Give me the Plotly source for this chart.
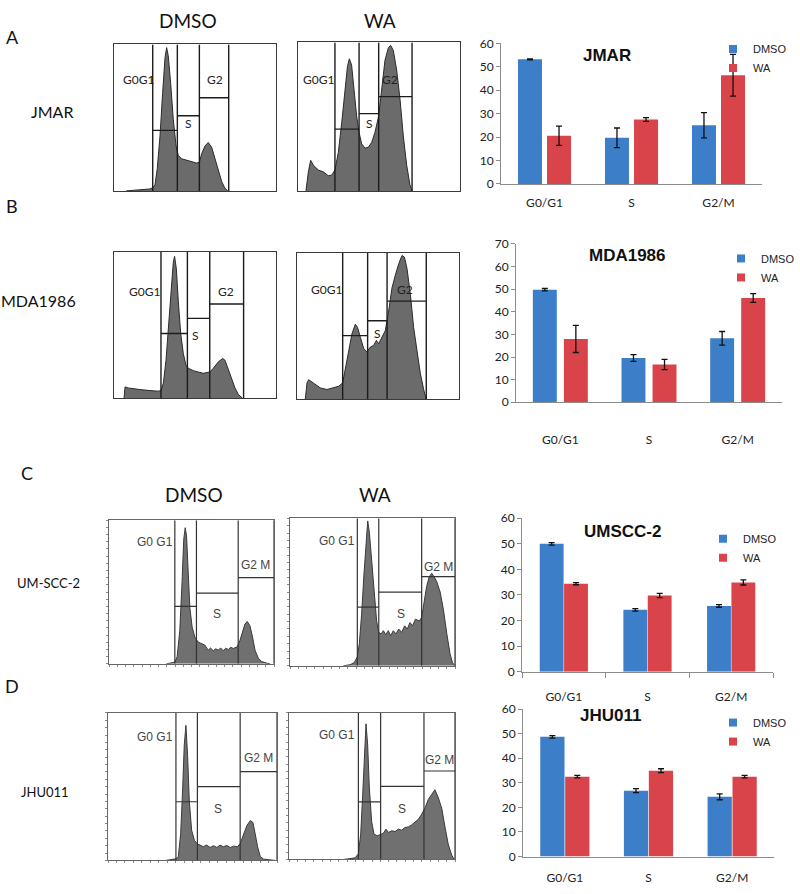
import plotly.graph_objects as go

# ---------------- bar chart data (% of cells) ----------------
phases = ["G0/G1", "S", "G2/M"]
treatments = ["DMSO", "WA"]

jmar_dmso = [53.2, 19.7, 25.1]
jmar_dmso_err = [0.2, 4.2, 5.4]
jmar_wa = [20.6, 27.5, 46.4]
jmar_wa_err = [4.1, 0.8, 8.9]

mda_dmso = [49.8, 19.6, 28.3]
mda_dmso_err = [0.5, 1.5, 3.0]
mda_wa = [28.0, 16.7, 46.1]
mda_wa_err = [6.0, 2.3, 1.9]

umscc_dmso = [50.0, 24.2, 25.7]
umscc_dmso_err = [0.5, 0.5, 0.5]
umscc_wa = [34.4, 29.8, 34.9]
umscc_wa_err = [0.4, 0.8, 1.0]

jhu_dmso = [48.7, 26.8, 24.3]
jhu_dmso_err = [0.5, 0.8, 1.2]
jhu_wa = [32.5, 34.9, 32.5]
jhu_wa_err = [0.5, 0.8, 0.5]

# ---------------- DNA-content histograms (x: channel %, y: count % of frame) ----------------
jmar_dmso_hx = [7.5, 16, 22.2, 23.9, 25.3, 26.7, 28.4, 30, 31.5, 32.5, 33.5, 35, 36.6, 38.3, 39.7, 41.8, 44.9, 47.9, 51, 52.7, 54.1, 56.2, 58.2, 60.3, 62.3, 64.4, 66.5, 68.5, 70.2]
jmar_dmso_hy = [0, 0.9, 1.3, 2.2, 4, 15.2, 37.5, 66.5, 91, 97.8, 92.2, 73.2, 48.7, 30.8, 24.1, 21.9, 20.8, 19.6, 19, 19.6, 25.2, 30.8, 33, 29.7, 21.9, 12.9, 6.3, 1.8, 0]
jmar_dmso_gates = [23.9, 39.1, 52.7, 70.8]
jmar_dmso_levels = [41.3, 51.3, 63.6]

jmar_wa_hx = [4.9, 6.4, 7.8, 9.5, 12.6, 15.6, 18.7, 20.8, 22.8, 24.9, 27, 29, 30.5, 31.7, 33.1, 34.6, 36.2, 37.7, 39.3, 41.4, 43.4, 45.5, 47.5, 49.8, 51.6, 53.7, 55.8, 57.2, 58.8, 60.9, 63, 65, 67.1, 69.1, 70.4]
jmar_wa_hy = [0, 12.8, 20.6, 17.3, 14, 12.8, 10.2, 10.6, 14, 26, 46, 70, 83.6, 89, 84.7, 68, 50.4, 39.4, 31.6, 28.8, 29.4, 32.7, 39.4, 50.4, 70, 88, 96.5, 98, 94.7, 81.4, 61.5, 37, 17.3, 4, 0]
jmar_wa_gates = [22.8, 37.7, 49.8, 70.4]
jmar_wa_levels = [41.6, 52.0, 63.5]

mda_dmso_hx = [6.2, 6.8, 8.8, 11.9, 16, 22.2, 27.4, 29, 30.5, 32.1, 33.7, 35.4, 36.6, 37.4, 38.5, 39.7, 41.2, 42.8, 44.4, 45.9, 49, 52, 55.1, 59.1, 61.3, 64.4, 67.1, 68.5, 70.6, 72.6, 74.7, 76.7, 79.4]
mda_dmso_hy = [0, 7.8, 7.1, 6.5, 6, 5.3, 4.9, 5.3, 10.5, 26, 48.3, 77.3, 92.9, 96.9, 88.4, 66.1, 43.9, 30.5, 22.7, 20.5, 18.9, 18, 17.1, 18, 20.5, 24.9, 27.2, 26, 19.4, 12.7, 7.1, 2.7, 0]
mda_dmso_gates = [29.0, 45.3, 59.1, 80.0]
mda_dmso_levels = [44.3, 54.6, 64.4]

mda_wa_hx = [5.1, 6.2, 7.2, 10.3, 14.4, 18.5, 22.6, 25.7, 28.2, 29.8, 31.9, 33.9, 36, 37.4, 39.1, 41.2, 43.2, 45.3, 47.3, 49, 50.4, 52.5, 54.5, 56.6, 58.6, 60.7, 62.8, 64.8, 66.3, 67.9, 70, 72, 74.1, 76.1, 78.2, 79.8]
mda_wa_hy = [0, 11.2, 13.4, 11.2, 7.8, 6.7, 7.8, 8.9, 11.2, 20, 33.5, 44.6, 51.3, 49.1, 42.4, 34.6, 32.4, 35.7, 36.8, 40.2, 37.9, 42.4, 46.9, 60.3, 75.9, 84.8, 92.6, 98.2, 97.1, 89.3, 71.4, 49.1, 31.3, 17.9, 6.7, 0]
mda_wa_gates = [28.2, 43.6, 55.6, 79.8]
mda_wa_levels = [43.5, 53.6, 67.0]

umscc_dmso_hx = [34.8, 37.9, 39.9, 41.3, 42.9, 44.3, 45.3, 46.2, 47, 48, 49, 50.4, 52, 54, 56.1, 58.1, 60.1, 61.5, 63.2, 64.7, 66.2, 67.7, 69.2, 70.7, 72.3, 73.8, 75.3, 77.7, 79.4, 81, 82.4, 83.8, 85.4, 87, 88.5, 90.5, 92.5, 95.5, 97.6]
umscc_dmso_hy = [0, 0.9, 1.1, 5, 23.2, 57.3, 86.8, 94.8, 89.1, 64.1, 39.1, 25.5, 18.6, 15.2, 14.1, 13, 9.5, 11, 9.1, 10.5, 9.5, 11, 9.1, 10.8, 10, 11.5, 10.7, 11.8, 16.4, 23.2, 27.7, 29.5, 26.6, 18.6, 9.5, 3.9, 1.6, 0.5, 0]
umscc_dmso_gates = [39.9, 53.0, 78.3, 100.0]
umscc_dmso_levels = [40.0, 49.3, 60.0]

umscc_wa_hx = [32.3, 36.4, 38.8, 40.8, 42, 43.4, 44.8, 46.1, 47.1, 48.1, 49.5, 50.9, 52.5, 53.7, 55.2, 56.6, 58, 59.6, 61, 62.6, 64.2, 65.9, 67.7, 69.5, 71.1, 72.7, 74.3, 76, 78.4, 79.8, 81.2, 82.8, 84.4, 85.9, 87.3, 88.9, 91, 93, 95, 97, 98.5, 100]
umscc_wa_hy = [0, 0.7, 2, 6, 14.9, 34.9, 61.6, 86, 98.2, 90.4, 70.4, 48.2, 30.4, 22.7, 21.6, 23.8, 21.1, 23.8, 20.4, 23.8, 21.6, 24.9, 22.7, 27.1, 24.9, 29.3, 27.1, 31.6, 30.4, 32.7, 43.8, 53.8, 60.4, 62.7, 60.4, 57.1, 50, 38, 22, 8, 2, 0]
umscc_wa_gates = [40.8, 53.8, 79.8, 100.0]
umscc_wa_levels = [39.8, 50.0, 60.5]

jhu_dmso_hx = [34, 36.6, 40.2, 41.6, 43, 44.2, 45.1, 46.1, 47.1, 48.1, 49.5, 51.1, 52.9, 54.5, 56.4, 58.4, 60.4, 62.4, 64.4, 66.3, 68.3, 70.3, 72.3, 74.3, 76.6, 78.2, 80.2, 82.2, 84.2, 85.7, 87.1, 88.5, 90.1, 92.1, 96, 99]
jhu_dmso_hy = [0, 0.4, 1.1, 2.7, 18.1, 49.1, 77.9, 91.6, 71.2, 40.3, 20.4, 13.7, 11.1, 10.4, 9.3, 10.4, 8.8, 10, 8.8, 10.4, 9.3, 10.2, 8.8, 9.7, 9.3, 11.5, 17, 23.7, 27, 25.9, 18.1, 9.3, 2.7, 0.9, 0.4, 0]
jhu_dmso_gates = [40.2, 52.9, 78.2, 100.0]
jhu_dmso_levels = [39.8, 50.0, 60.2]

jhu_wa_hx = [33, 34.7, 39.8, 41.8, 43.2, 44.4, 45.4, 46.4, 47.4, 48.4, 49.8, 51.2, 53.2, 55.2, 56.8, 58.4, 60, 61.8, 63.9, 65.9, 67.9, 69.9, 71.9, 73.9, 75.9, 77.9, 79.9, 82, 83.9, 85.9, 87.9, 90, 92, 94, 96, 98, 99.5]
jhu_wa_hy = [0, 0.4, 1.1, 3.8, 17.3, 44.3, 73.5, 92.6, 78, 48.8, 25.8, 17.3, 16.2, 16.9, 17.8, 20.7, 18.4, 19.6, 19.1, 20.7, 20, 21.8, 22.2, 23.6, 25.2, 27.4, 30.8, 35.3, 40.9, 44.3, 47.6, 42, 35, 22, 10, 3, 0]
jhu_wa_gates = [41.8, 55.2, 81.3, 100.0]
jhu_wa_levels = [39.3, 49.9, 60.4]

gate_names_ab = ["G0G1", "S", "G2"]
gate_names_cd = ["G0 G1", "S", "G2 M"]

# ---------------- layout helpers ----------------
W, H = 800, 894
BLUE = "#3d7ec9"
RED = "#d9444a"
CAL = "Lato"
ARI = "Liberation Sans"


def xd(a, b):
    return [a / W, b / W]


def yd(top, bottom):
    return [1 - bottom / H, 1 - top / H]


fig = go.Figure()
layout = dict(width=W, height=H, margin=dict(l=0, r=0, t=0, b=0),
              paper_bgcolor="white", plot_bgcolor="white",
              barmode="overlay", showlegend=True)
shapes = []
annotations = []

hist_panels = [
    dict(hx=jmar_dmso_hx, hy=jmar_dmso_hy, g=jmar_dmso_gates, lv=jmar_dmso_levels, box=(114, 276, 37, 186), st="ab",
         lab=[(15, 76), (45.9, 46), (62.3, 76)]),
    dict(hx=jmar_wa_hx, hy=jmar_wa_hy, g=jmar_wa_gates, lv=jmar_wa_levels, box=(298, 460, 35, 186), st="ab",
         lab=[(12.6, 75), (44, 45.6), (56.8, 75)]),
    dict(hx=mda_dmso_hx, hy=mda_dmso_hy, g=mda_dmso_gates, lv=mda_dmso_levels, box=(114, 276, 248, 397), st="ab",
         lab=[(19.1, 72.8), (50.6, 42.8), (69.1, 72.8)]),
    dict(hx=mda_wa_hx, hy=mda_wa_hy, g=mda_wa_gates, lv=mda_wa_levels, box=(297, 459, 249, 398), st="ab",
         lab=[(18.5, 75.2), (49.4, 45), (66.9, 75.2)]),
    dict(hx=umscc_dmso_hx, hy=umscc_dmso_hy, g=umscc_dmso_gates, lv=umscc_dmso_levels, box=(109, 274, 521, 667), st="cd",
         lab=[(27.7, 85), (65.6, 34.5), (88.9, 69)]),
    dict(hx=umscc_wa_hx, hy=umscc_wa_hy, g=umscc_wa_gates, lv=umscc_wa_levels, box=(290, 455, 519, 669), st="cd",
         lab=[(28.3, 84.9), (67, 34.9), (89.8, 67)]),
    dict(hx=jhu_dmso_hx, hy=jhu_dmso_hy, g=jhu_dmso_gates, lv=jhu_dmso_levels, box=(108, 277, 717, 867), st="cd",
         lab=[(27.7, 84), (65.3, 34.7), (89.1, 69.5)]),
    dict(hx=jhu_wa_hx, hy=jhu_wa_hy, g=jhu_wa_gates, lv=jhu_wa_levels, box=(289, 455, 717, 866), st="cd",
         lab=[(29.1, 84.7), (67.9, 34.2), (90.8, 68)]),
]

for i, p in enumerate(hist_panels, start=1):
    xa = "x" if i == 1 else f"x{i}"
    ya = "y" if i == 1 else f"y{i}"
    xk = "xaxis" if i == 1 else f"xaxis{i}"
    yk = "yaxis" if i == 1 else f"yaxis{i}"
    l, r, t, b = p["box"]
    ab = p["st"] == "ab"
    frame = "#3a3a3a" if ab else "#666666"
    tick_kw = {} if ab else dict(ticks="outside", ticklen=2, tickcolor="#888888", dtick=5, tick0=0)
    layout[xk] = dict(domain=xd(l, r), range=[0, 100], anchor=ya, showgrid=False, zeroline=False,
                      showticklabels=False, showline=True, mirror=True, linecolor=frame, linewidth=1, **tick_kw)
    layout[yk] = dict(domain=yd(t, b), range=[0, 100], anchor=xa, showgrid=False, zeroline=False,
                      showticklabels=False, showline=True, mirror=True, linecolor=frame, linewidth=1, **tick_kw)
    fig.add_trace(go.Scatter(x=p["hx"], y=p["hy"], xaxis=xa, yaxis=ya, mode="lines", fill="tozeroy",
                             fillcolor="#6b6b6b" if ab else "#707070",
                             line=dict(color="#2b2b2b" if ab else "#3a3a3a", width=1),
                             showlegend=False, hoverinfo="skip"))
    gcol = "#1c1c1c" if ab else "#333333"
    gw = 1.4 if ab else 1.2
    for gx in p["g"]:
        shapes.append(dict(type="line", xref=xa, yref=ya, x0=gx, x1=gx, y0=0, y1=100,
                           line=dict(color=gcol, width=gw)))
    for k in range(3):
        shapes.append(dict(type="line", xref=xa, yref=ya, x0=p["g"][k], x1=p["g"][k + 1],
                           y0=p["lv"][k], y1=p["lv"][k], line=dict(color=gcol, width=gw)))
    names = gate_names_ab if ab else gate_names_cd
    for name, (lx, ly) in zip(names, p["lab"]):
        annotations.append(dict(xref=xa, yref=ya, x=lx, y=ly, text=name, showarrow=False,
                                font=dict(family=CAL if ab else ARI, size=12,
                                          color="#222222" if ab else "#444444")))

bar_panels = [
    dict(title="JMAR", d=jmar_dmso, de=jmar_dmso_err, w=jmar_wa, we=jmar_wa_err, box=(501, 762, 36, 179), ymax=60,
         bw=0.276, gap=0.058, tpos=(633, 48), leg=(713, 27), standoff=8, xticks=False),
    dict(title="MDA1986", d=mda_dmso, de=mda_dmso_err, w=mda_wa, we=mda_wa_err, box=(516, 782, 240, 401), ymax=70,
         bw=0.27, gap=0.08, tpos=(668, 252), leg=(721, 240), standoff=26, xticks=False),
    dict(title="UMSCC-2", d=umscc_dmso, de=umscc_dmso_err, w=umscc_wa, we=umscc_wa_err, box=(522, 773, 519, 675),
         ymax=60, bw=0.285, gap=0.006, tpos=(663, 532), leg=(703, 525), standoff=14, xticks=True),
    dict(title="JHU011", d=jhu_dmso, de=jhu_dmso_err, w=jhu_wa, we=jhu_wa_err, box=(523, 774, 713, 863), ymax=60,
         bw=0.29, gap=0.008, tpos=(643, 720), leg=(713, 712), standoff=10, xticks=False),
]

for j, p in enumerate(bar_panels):
    i = 9 + j
    xa, ya = f"x{i}", f"y{i}"
    l, r, t, b = p["box"]
    leg_name = "legend" if j == 0 else f"legend{j + 1}"
    x_kw = dict(ticks="outside", ticklen=5, tickcolor="#8c8c8c", tickson="boundaries") if p["xticks"] else dict(ticks="")
    layout[f"xaxis{i}"] = dict(domain=xd(l, r), anchor=ya, type="category", categoryarray=phases,
                               categoryorder="array", range=[-0.5, 2.5], showgrid=False, zeroline=False,
                               showline=True, linecolor="#8c8c8c", linewidth=1,
                               tickfont=dict(family=CAL, size=12, color="#222222"),
                               ticklabelstandoff=p["standoff"], **x_kw)
    layout[f"yaxis{i}"] = dict(domain=yd(t, b), anchor=xa, range=[0, p["ymax"]], dtick=10, showgrid=False,
                               zeroline=False, showline=True, linecolor="#8c8c8c", linewidth=1,
                               ticks="outside", ticklen=4, tickcolor="#8c8c8c",
                               tickfont=dict(family=CAL, size=12, color="#222222"))
    for name, vals, errs, col, off in [("DMSO", p["d"], p["de"], BLUE, -p["bw"] - p["gap"] / 2),
                                       ("WA", p["w"], p["we"], RED, p["gap"] / 2)]:
        fig.add_trace(go.Bar(x=phases, y=vals, xaxis=xa, yaxis=ya, name=name, marker_color=col,
                             marker_line_width=0, width=p["bw"], offset=off, showlegend=False,
                             error_y=dict(type="data", array=errs, visible=True, color="#111111",
                                          thickness=1.3, width=3)))
        fig.add_trace(go.Scatter(x=[None], y=[None], xaxis=xa, yaxis=ya, mode="markers", name=name,
                                 marker=dict(symbol="square", size=8, color=col), legend=leg_name))
    layout[leg_name] = dict(x=p["leg"][0] / W, y=1 - p["leg"][1] / H, xanchor="left", yanchor="top",
                            bgcolor="rgba(0,0,0,0)", font=dict(family=ARI, size=11, color="#222222"),
                            itemwidth=30, tracegroupgap=0)
    annotations.append(dict(xref="paper", yref="paper", x=p["tpos"][0] / W, y=1 - p["tpos"][1] / H,
                            text=f"<b>{p['title']}</b>", showarrow=False, yanchor="middle",
                            font=dict(family=ARI, size=17, color="#111111")))

# ---------------- figure text ----------------
texts = [
    ("A", 12, 30, 18, CAL), ("B", 12, 201, 18, CAL), ("C", 27, 473, 18, CAL), ("D", 12, 690, 18, CAL),
    ("DMSO", 188, 13, 19, CAL), ("WA", 380, 13, 19, CAL),
    ("DMSO", 194, 495, 19, CAL), ("WA", 375, 495, 19, CAL),
    ("JMAR", 52, 105, 16, CAL), ("MDA1986", 38, 297, 16, CAL),
    ("UM-SCC-2", 48, 585, 13, CAL), ("JHU011", 45, 797, 13, CAL),
]
for txt, px, py, sz, fam in texts:
    annotations.append(dict(xref="paper", yref="paper", x=px / W, y=1 - py / H, text=txt, showarrow=False,
                            xanchor="center", yanchor="middle", font=dict(family=fam, size=sz, color="#111111")))

layout["shapes"] = shapes
layout["annotations"] = annotations
fig.update_layout(**layout)

page_fix = (
    "var d=document.getElementById('{plot_id}');"
    "document.documentElement.style.cssText='margin:0;padding:0;overflow:hidden;height:894px;';"
    "document.body.style.cssText='margin:0;padding:0;overflow:hidden;height:894px;';"
    "d.style.position='fixed';d.style.top='0px';d.style.left='0px';"
)
fig.write_html("out.html", config={"displayModeBar": False}, post_script=page_fix)
